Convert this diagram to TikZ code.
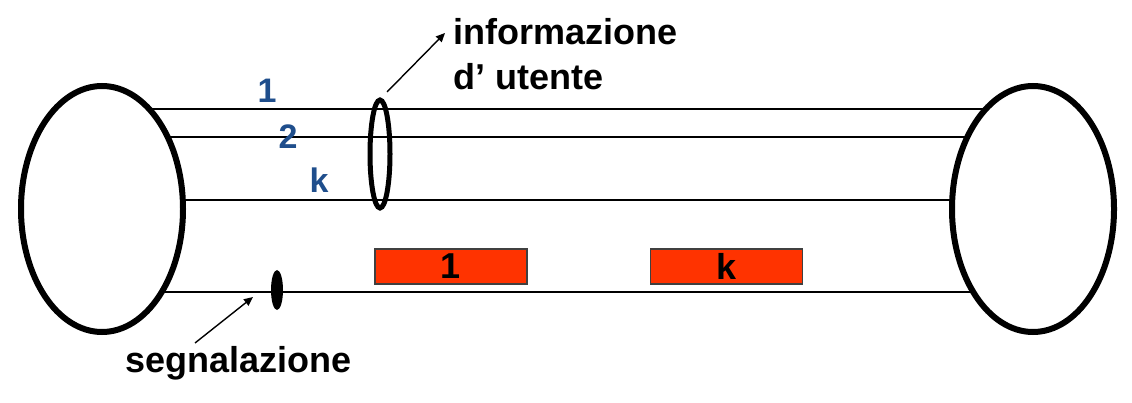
\documentclass[tikz,border=0pt]{standalone}
\usepackage{fontspec}
\setmainfont{Liberation Sans}
\usetikzlibrary{shapes.geometric,arrows.meta}
\definecolor{chanblue}{HTML}{1F4E8C}
\definecolor{slotred}{HTML}{FF3300}
\tikzset{
  endring/.style={ellipse, draw, fill=white, line width=6pt, minimum width=162pt, minimum height=246pt, inner sep=0pt},
  wire/.style={line width=1.4pt},
  chanlabel/.style={text=chanblue, font=\fontsize{34}{36}\selectfont\bfseries, inner sep=0pt},
  biglabel/.style={font=\fontsize{36}{40}\selectfont\bfseries, inner sep=0pt, anchor=base west},
  slot/.style={draw=black!75, line width=1.2pt, fill=slotred, minimum width=152pt, minimum height=35pt, inner sep=0pt, font=\fontsize{36}{38}\selectfont\bfseries},
  pointer/.style={line width=1.4pt, -{Triangle[length=9pt,width=8pt]}}
}
\begin{document}
\begin{tikzpicture}[x=1pt,y=-1pt]
\useasboundingbox (0,0) rectangle (1132,403);
% channel wires between the two end points
\coordinate (a1) at (150,109); \coordinate (b1) at (985,109);
\coordinate (a2) at (150,137); \coordinate (b2) at (985,137);
\coordinate (ak) at (150,200); \coordinate (bk) at (985,200);
\coordinate (as) at (150,292); \coordinate (bs) at (985,292);
\draw[wire] (a1) -- (b1);
\draw[wire] (a2) -- (b2);
\draw[wire] (ak) -- (bk);
\draw[wire] (as) -- (bs);
% end points
\node[endring] (left) at (102,209) {};
\node[endring] (right) at (1033,209) {};
% channel numbers
\node[chanlabel] (n1) at (267,91) {1};
\node[chanlabel] (n2) at (288,137) {2};
\node[chanlabel] (nk) at (319,180) {k};
% user information bundle
\node[ellipse, draw, line width=5pt, minimum width=20pt, minimum height=108pt, inner sep=0pt] (bundle) at (380,154) {};
\node[biglabel] (info) at (453,45) {informazione};
\node[biglabel] (user) at (453,90) {d’ utente};
\coordinate (infostart) at (387,92);
\coordinate (infotip) at (445,33);
\draw[pointer] (infostart) -- (infotip);
% signalling channel
\node[ellipse, fill=black, minimum width=12pt, minimum height=40pt, inner sep=0pt] (sig) at (277,290) {};
\node[biglabel] (siglabel) at (125,372) {segnalazione};
\coordinate (sigfoot) at (195,343);
\coordinate (sigtip) at (253,297);
\draw[pointer] (sigfoot) -- (sigtip);
% time slots
\node[slot] (slot1) at (451,266.5) {1};
\node[slot] (slotk) at (726.5,266.5) {k};
\end{tikzpicture}
\end{document}
